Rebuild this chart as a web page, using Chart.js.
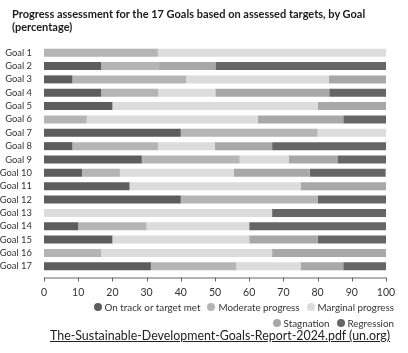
<!DOCTYPE html>
<html><head><meta charset="utf-8">
<script src="https://cdn.jsdelivr.net/npm/chart.js@4"></script>
<style>
html,body{margin:0;padding:0;background:#fff;}
#wrap{position:relative;width:408px;height:353px;overflow:hidden;font-family:Lato,sans-serif;color:#222;}
canvas{position:absolute;left:0;top:0;}
#title{position:absolute;left:12px;top:8px;font-weight:bold;font-size:11px;line-height:12.8px;color:#1a1a1a;white-space:nowrap;}
.lrow{position:absolute;right:14px;font-size:9.8px;color:#333;white-space:nowrap;display:flex;align-items:center;}
.lrow span.d{display:inline-block;width:8px;height:8px;border-radius:50%;margin:0 3px 0 7px;}
#src{position:absolute;left:50px;top:328px;font-size:12.4px;color:#222;text-decoration:underline;white-space:nowrap;}
</style></head>
<body><div id="wrap">
<canvas id="c" width="408" height="353"></canvas>
<div id="title">Progress assessment for the 17 Goals based on assessed targets, by Goal<br>(percentage)</div>
<div class="lrow" id="l1" style="top:301px"></div>
<div class="lrow" id="l2" style="top:317px"></div>
<div id="src">The-Sustainable-Development-Goals-Report-2024.pdf (un.org)</div>
</div>
<script>
const goals = ["Goal 1","Goal 2","Goal 3","Goal 4","Goal 5","Goal 6","Goal 7","Goal 8","Goal 9","Goal 10","Goal 11","Goal 12","Goal 13","Goal 14","Goal 15","Goal 16","Goal 17"];
const seriesNames = ["On track or target met","Moderate progress","Marginal progress","Stagnation","Regression"];
const onTrack    = [0,16.7,8.3,16.7,20,0,40,8.3,28.6,11.1,25,40,0,10,20,0,31.25];
const moderate   = [33.3,16.7,33.3,16.7,0,12.5,40,25,28.6,11.1,0,40,0,20,0,16.7,25];
const marginal   = [66.7,0,41.7,16.7,60,50,20,16.7,14.3,33.3,50,0,66.7,30,40,50,18.75];
const stagnation = [0,16.7,16.7,33.3,20,25,0,16.7,14.3,22.2,25,0,0,0,20,33.3,12.5];
const regression = [0,50,0,16.7,0,12.5,0,33.3,14.3,22.2,0,20,33.3,40,20,0,12.5];
const xTicks = [0,10,20,30,40,50,60,70,80,90,100];

const colors = ["#5d5d5d","#b5b5b5","#dcdcdc","#a8a8a8","#666666"];
const values = [onTrack,moderate,marginal,stagnation,regression];

const axisPlugin = {
  id:'axisLine',
  afterDraw(chart){
    const x = chart.scales.x, ctx = chart.ctx;
    const y0 = chart.chartArea.bottom + 4.5;
    ctx.save();
    ctx.strokeStyle = "#666"; ctx.lineWidth = 1;
    ctx.beginPath();
    ctx.moveTo(x.getPixelForValue(0), y0+0.5);
    ctx.lineTo(x.getPixelForValue(100), y0+0.5);
    xTicks.forEach(t=>{
      const px = Math.round(x.getPixelForValue(t))+0.5;
      ctx.moveTo(px, y0); ctx.lineTo(px, y0+4);
    });
    ctx.stroke();
    ctx.restore();
  }
};

new Chart(document.getElementById('c'), {
  type:'bar',
  data:{
    labels: goals,
    datasets: seriesNames.map((n,i)=>({label:n,data:values[i],backgroundColor:colors[i],borderWidth:0,barPercentage:0.6,categoryPercentage:1}))
  },
  options:{
    indexAxis:'y',
    responsive:false,
    animation:false,
    layout:{padding:{left:0,right:22,top:46,bottom:0}},
    plugins:{legend:{display:false},tooltip:{enabled:false},title:{display:false}},
    scales:{
      x:{stacked:true,min:0,max:100,
         afterBuildTicks(s){ s.ticks = xTicks.map(v=>({value:v})); },
         afterFit(s){ s.height = 80; },
         grid:{display:false},border:{display:false},
         ticks:{padding:5,color:"#333",maxRotation:0,font:{family:"Lato",size:10.5}}},
      y:{stacked:true,
         afterFit(s){ s.width = 44; },
         grid:{display:false},border:{display:false},
         ticks:{padding:4,autoSkip:false,color:"#333",font:{family:"Lato",size:9.4}}}
    }
  },
  plugins:[axisPlugin]
});

const rows = [[0,1,2],[3,4]];
rows.forEach((r,ri)=>{
  const el = document.getElementById(ri===0?'l1':'l2');
  r.forEach(i=>{
    const d=document.createElement('span'); d.className='d'; d.style.background=colors[i];
    const t=document.createElement('span'); t.textContent=seriesNames[i];
    el.appendChild(d); el.appendChild(t);
  });
});
</script>
</body></html>
